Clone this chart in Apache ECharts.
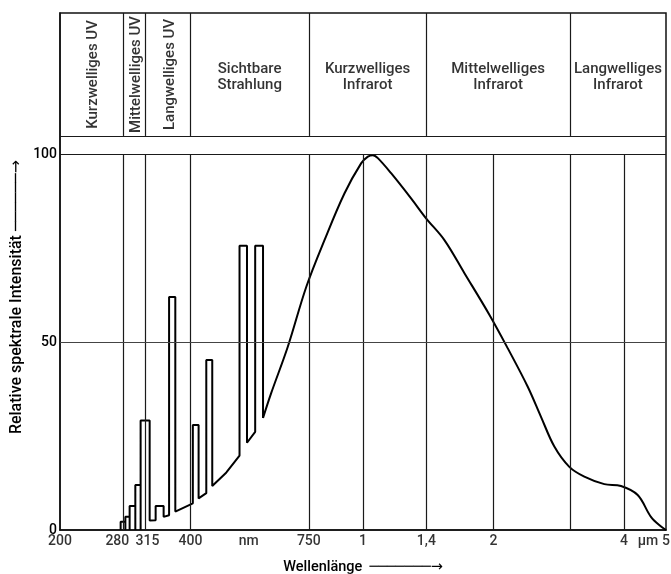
<!DOCTYPE html>
<html><head><meta charset="utf-8">
<script src="https://cdn.jsdelivr.net/npm/echarts@6/dist/echarts.min.js"></script>
<style>html,body{margin:0;padding:0;background:#fff}#c{width:671px;height:574px}</style>
</head><body><div id="c"></div>
<script>
const FONT = "Roboto,'DejaVu Sans',sans-serif";

// x-axis tick labels (wavelength in nm)
const tickWavelengths = [200, 280, 315, 400, 545, 750, 1000, 1400, 2000, 4000, 4545, 5000];
const tickLabels = ['200', '280', '315', '400', 'nm', '750', '1', '1,4', '2', '4', 'µm', '5'];
const yTickValues = [0, 50, 100];

// vertical grid lines (nm)
const gridWavelengths = [280, 315, 400, 750, 1000, 1400, 2000, 3000, 4000];
// spectral bands (header)
const bandEdges = [200, 280, 315, 400, 750, 1400, 3000, 5000];
const bandNames = ['Kurzwelliges UV', 'Mittelwelliges UV', 'Langwelliges UV',
  'Sichtbare\nStrahlung', 'Kurzwelliges\nInfrarot', 'Mittelwelliges\nInfrarot', 'Langwelliges\nInfrarot'];
const bandVertical = [true, true, true, false, false, false, false];

// line-spectrum outline (UV + visible), wavelength nm / relative intensity
const lineWl = [276, 276, 283, 283, 283, 289.5, 289.5, 289.5, 298.4, 298.4, 298.4, 306.9, 306.9, 306.9, 322, 322,
  332.4, 332.4, 346.8, 346.8, 357, 357, 369, 369, 405, 405, 417.6, 417.6, 435, 435, 449, 449, 484, 519, 519, 540, 540,
  564, 564, 588, 588];
const lineVal = [0, 2.2, 2.2, 0, 3.5, 3.5, 0, 6.4, 6.4, 0, 12.0, 12.0, 0, 29.1, 29.1, 2.5,
  2.6, 6.4, 6.4, 3.5, 3.9, 62.0, 62.0, 4.9, 7.1, 27.9, 27.9, 8.4, 9.8, 45.2, 45.2, 11.7, 15.3, 19.8, 75.6, 75.6, 23.2,
  26.1, 75.6, 75.6, 29.8];

// continuum (smooth part)
const contWl = [588, 614, 671, 740, 815, 906, 990, 1026, 1054, 1082, 1161, 1291, 1398, 1541, 1714, 1958, 2158, 2399,
  2574, 2763, 2992, 3240, 3603, 3937, 4302, 4616, 4870, 5000];
const contVal = [29.8, 36.4, 48.8, 64.7, 77.1, 89.5, 97.5, 99.3, 99.7, 98.9, 94.9, 88.2, 82.9, 77.1, 68.3, 57.2, 48.3, 38.1,
  30.1, 22.2, 16.8, 14.2, 12.2, 11.7, 9.3, 3.5, 0.9, 0];

const Y_MAX = 137.5;
const HEADER_BOTTOM = 104.8;
const headerMid = (Y_MAX + HEADER_BOTTOM) / 2;

const zip = (a, b) => a.map((v, i) => [v, b[i]]);

const markData = [];
gridWavelengths.forEach(w => markData.push([{ coord: [w, 0] }, { coord: [w, 100] }]));
bandEdges.slice(1, -1).forEach(w => markData.push([{ coord: [w, HEADER_BOTTOM] }, { coord: [w, Y_MAX] }]));
markData.push({ yAxis: 100 });
markData.push({ yAxis: HEADER_BOTTOM });
markData.push({ yAxis: 50, lineStyle: { color: '#444', width: 1 } });

const headerData = bandNames.map((n, i) => ({
  name: n,
  value: [Math.sqrt(bandEdges[i] * bandEdges[i + 1]), headerMid],
  label: bandVertical[i] ? { rotate: 90, offset: [0, 2] } : { rotate: 0, offset: [0, 3] }
}));

// small horizontal nudges for the crowded 280 / 315 labels
const tickNudge = { '280': -6, '315': 2 };
const tickData = tickWavelengths.map((w, i) => ({
  name: tickLabels[i], value: [w, 0],
  label: { offset: [tickNudge[tickLabels[i]] || 0, 0] }
}));

const chart = echarts.init(document.getElementById('c'), null, { renderer: 'canvas' });
chart.setOption({
  animation: false,
  backgroundColor: '#fff',
  grid: {
    left: 60, right: 5, top: 13, bottom: 44, show: true, borderColor: '#111', borderWidth: 1.5,
    backgroundColor: 'transparent', containLabel: false, outerBoundsMode: 'none'
  },
  xAxis: {
    type: 'log', logBase: 10, min: 200, max: 5000,
    axisLine: { show: true, lineStyle: { color: '#111', width: 1.5 } },
    axisTick: { show: false }, axisLabel: { show: false }, splitLine: { show: false },
    minorTick: { show: false }, minorSplitLine: { show: false },
    name: 'Wellenlänge  ───────→', nameLocation: 'middle', nameGap: 30,
    nameTextStyle: { fontFamily: FONT, fontSize: 14.5, fontWeight: 500, color: '#000' }
  },
  yAxis: {
    type: 'value', min: 0, max: Y_MAX, interval: 50,
    axisLine: { show: true, lineStyle: { color: '#111', width: 1.5 } },
    axisTick: { show: false }, splitLine: { show: false },
    axisLabel: {
      fontFamily: FONT, fontSize: 14, fontWeight: 500, color: '#000', margin: 3,
      formatter: v => yTickValues.includes(v) ? String(v) : ''
    }
  },
  graphic: [{
    type: 'text', x: 17, y: 297, rotation: Math.PI / 2,
    style: {
      text: 'Relative spektrale Intensität ──────→', fontFamily: FONT, fontSize: 16, fontWeight: 500, fill: '#000',
      align: 'center', verticalAlign: 'middle', textAlign: 'center', textVerticalAlign: 'middle'
    }
  }],
  series: [
    {
      type: 'line', data: [], silent: true, z: 1,
      markLine: {
        silent: true, symbol: ['none', 'none'], label: { show: false },
        lineStyle: { color: '#1a1a1a', width: 1.2, type: 'solid' },
        emphasis: { disabled: true },
        data: markData
      }
    },
    {
      type: 'line', data: zip(lineWl, lineVal), showSymbol: false, symbol: 'none', smooth: false, z: 3,
      lineStyle: { color: '#000', width: 2 }, silent: true
    },
    {
      type: 'line', data: zip(contWl, contVal), showSymbol: false, symbol: 'none', smooth: 0.35, z: 3,
      lineStyle: { color: '#000', width: 2 }, silent: true
    },
    {
      type: 'scatter', data: headerData, symbolSize: 1, itemStyle: { color: 'rgba(0,0,0,0)' }, silent: true, z: 4,
      label: {
        show: true, position: 'inside', formatter: p => p.name,
        fontFamily: FONT, fontSize: 15, fontWeight: 500, lineHeight: 16, color: '#000', align: 'center', verticalAlign: 'middle'
      }
    },
    {
      type: 'scatter', data: tickData, symbolSize: 1, itemStyle: { color: 'rgba(0,0,0,0)' }, silent: true, z: 4,
      label: {
        show: true, position: 'bottom', distance: 4, formatter: p => p.name,
        fontFamily: FONT, fontSize: 14, fontWeight: 500, color: '#000'
      }
    }
  ]
});
</script>
</body></html>
